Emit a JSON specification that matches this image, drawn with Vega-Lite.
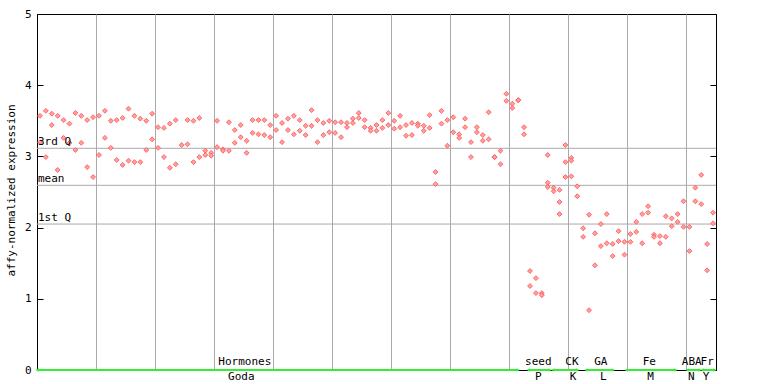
{
  "$schema": "https://vega.github.io/schema/vega-lite/v6.json",
  "width": 679,
  "height": 356,
  "autosize": {"type": "none"},
  "padding": {"left": 37, "top": 14, "right": 52, "bottom": 14},
  "background": "white",
  "config": {
    "font": "DejaVu Sans Mono",
    "view": {"stroke": "black", "strokeWidth": 1},
    "axis": {"domainColor": "black", "tickColor": "black", "labelColor": "black", "titleColor": "black", "labelFont": "DejaVu Sans Mono", "titleFont": "DejaVu Sans Mono", "titleFontWeight": "normal"}
  },
  "datasets": {
    "pts": [
      {"s":1,"v":3.57},{"s":1,"v":3.20},{"s":2,"v":3.64},{"s":2,"v":2.99},{"s":3,"v":3.60},{"s":3,"v":3.44},{"s":4,"v":3.57},{"s":4,"v":2.81},{"s":5,"v":3.51},{"s":5,"v":3.26},
      {"s":6,"v":3.46},{"s":6,"v":3.19},{"s":7,"v":3.61},{"s":7,"v":3.09},{"s":8,"v":3.57},{"s":8,"v":3.19},{"s":9,"v":3.51},{"s":9,"v":2.85},{"s":10,"v":3.55},{"s":10,"v":2.71},
      {"s":11,"v":3.57},{"s":11,"v":3.02},{"s":12,"v":3.64},{"s":12,"v":3.26},{"s":13,"v":3.50},{"s":13,"v":3.12},{"s":14,"v":3.51},{"s":14,"v":2.95},{"s":15,"v":3.54},{"s":15,"v":2.88},
      {"s":16,"v":3.67},{"s":16,"v":2.94},{"s":17,"v":3.57},{"s":17,"v":2.92},{"s":18,"v":3.53},{"s":18,"v":2.92},{"s":19,"v":3.50},{"s":19,"v":3.09},{"s":20,"v":3.60},{"s":20,"v":3.24},
      {"s":21,"v":3.41},{"s":21,"v":3.12},{"s":22,"v":3.40},{"s":22,"v":2.99},{"s":23,"v":3.46},{"s":23,"v":2.84},{"s":24,"v":3.51},{"s":24,"v":2.89},{"s":25,"v":3.16},
      {"s":26,"v":3.51},{"s":26,"v":3.17},{"s":27,"v":3.50},{"s":27,"v":2.92},{"s":28,"v":3.54},{"s":28,"v":2.99},{"s":29,"v":3.08},{"s":29,"v":3.02},{"s":30,"v":3.05},{"s":30,"v":3.01},
      {"s":31,"v":3.50},{"s":31,"v":3.13},{"s":32,"v":3.10},{"s":32,"v":3.08},{"s":33,"v":3.48},{"s":33,"v":3.08},{"s":34,"v":3.37},{"s":34,"v":3.19},{"s":35,"v":3.44},{"s":35,"v":3.27},
      {"s":36,"v":3.22},{"s":36,"v":3.05},{"s":37,"v":3.51},{"s":37,"v":3.33},{"s":38,"v":3.51},{"s":38,"v":3.31},{"s":39,"v":3.51},{"s":39,"v":3.30},{"s":40,"v":3.44},{"s":40,"v":3.27},
      {"s":41,"v":3.57},{"s":41,"v":3.37},{"s":42,"v":3.47},{"s":42,"v":3.20},{"s":43,"v":3.53},{"s":43,"v":3.37},{"s":44,"v":3.57},{"s":44,"v":3.31},{"s":45,"v":3.51},{"s":45,"v":3.36},
      {"s":46,"v":3.43},{"s":46,"v":3.30},{"s":47,"v":3.65},{"s":47,"v":3.43},{"s":48,"v":3.51},{"s":48,"v":3.20},{"s":49,"v":3.47},{"s":49,"v":3.30},{"s":50,"v":3.50},{"s":50,"v":3.34},
      {"s":51,"v":3.48},{"s":51,"v":3.33},{"s":52,"v":3.48},{"s":52,"v":3.27},{"s":53,"v":3.47},{"s":53,"v":3.41},{"s":54,"v":3.53},{"s":54,"v":3.47},{"s":55,"v":3.61},{"s":55,"v":3.54},
      {"s":56,"v":3.51},{"s":56,"v":3.41},{"s":57,"v":3.40},{"s":57,"v":3.36},{"s":58,"v":3.44},{"s":58,"v":3.36},{"s":59,"v":3.51},{"s":59,"v":3.40},{"s":60,"v":3.61},{"s":60,"v":3.44},
      {"s":61,"v":3.50},{"s":61,"v":3.39},{"s":62,"v":3.57},{"s":62,"v":3.41},{"s":63,"v":3.44},{"s":63,"v":3.29},{"s":64,"v":3.47},{"s":64,"v":3.30},{"s":65,"v":3.46},{"s":65,"v":3.43},
      {"s":66,"v":3.43},{"s":66,"v":3.36},{"s":67,"v":3.58},{"s":67,"v":3.40},{"s":68,"v":2.78},{"s":68,"v":2.61},{"s":69,"v":3.64},{"s":69,"v":3.46},{"s":70,"v":3.51},{"s":70,"v":3.15},
      {"s":71,"v":3.55},{"s":71,"v":3.34},{"s":72,"v":3.31},{"s":72,"v":3.26},{"s":73,"v":3.53},{"s":73,"v":3.41},{"s":74,"v":3.20},{"s":74,"v":2.99},{"s":75,"v":3.41},{"s":75,"v":3.34},
      {"s":76,"v":3.30},{"s":76,"v":3.22},{"s":77,"v":3.62},{"s":77,"v":3.24},{"s":78,"v":2.99},{"s":78,"v":2.99},{"s":79,"v":3.08},{"s":79,"v":2.89},{"s":80,"v":3.88},{"s":80,"v":3.78},
      {"s":81,"v":3.74},{"s":81,"v":3.68},{"s":82,"v":3.79},{"s":82,"v":3.79},{"s":83,"v":3.41},{"s":83,"v":3.31},{"s":84,"v":1.39},{"s":84,"v":1.18},{"s":85,"v":1.29},{"s":85,"v":1.08},
      {"s":86,"v":1.08},{"s":86,"v":1.05},{"s":87,"v":3.02},{"s":87,"v":2.63},{"s":87,"v":2.57},{"s":88,"v":2.56},{"s":88,"v":2.51},{"s":89,"v":2.53},{"s":89,"v":2.36},{"s":89,"v":2.19},
      {"s":90,"v":3.16},{"s":90,"v":2.92},{"s":90,"v":2.71},{"s":91,"v":2.98},{"s":91,"v":2.94},{"s":91,"v":2.72},{"s":92,"v":2.58},{"s":92,"v":2.44},{"s":93,"v":1.99},{"s":93,"v":1.87},
      {"s":94,"v":2.18},{"s":94,"v":0.84},{"s":95,"v":1.92},{"s":95,"v":1.47},{"s":96,"v":2.05},{"s":96,"v":1.74},{"s":97,"v":2.19},{"s":97,"v":1.78},{"s":98,"v":1.77},{"s":98,"v":1.60},
      {"s":99,"v":1.95},{"s":99,"v":1.81},{"s":100,"v":1.80},{"s":100,"v":1.62},{"s":101,"v":1.91},{"s":101,"v":1.80},{"s":102,"v":2.08},{"s":102,"v":1.94},{"s":103,"v":2.19},{"s":103,"v":1.78},
      {"s":104,"v":2.30},{"s":104,"v":2.21},{"s":105,"v":1.90},{"s":105,"v":1.87},{"s":106,"v":1.88},{"s":106,"v":1.78},{"s":107,"v":2.16},{"s":107,"v":1.87},{"s":108,"v":2.13},{"s":108,"v":2.02},
      {"s":109,"v":2.19},{"s":109,"v":2.08},{"s":110,"v":2.37},{"s":110,"v":2.01},{"s":111,"v":2.01},{"s":111,"v":1.67},{"s":112,"v":2.56},{"s":112,"v":2.37},{"s":113,"v":2.74},{"s":113,"v":2.33},
      {"s":114,"v":1.77},{"s":114,"v":1.40},{"s":115,"v":2.21},{"s":115,"v":2.06}
    ],
    "refs": [
      {"label": "3rd Q", "v": 3.114},
      {"label": "mean", "v": 2.594},
      {"label": "1st Q", "v": 2.05}
    ],
    "groups": [
      {"label": "Hormones", "sub": "Goda", "start": 0.5, "end": 82.0, "mid": 35.7, "submid": 35.1},
      {"label": "seed", "sub": "P", "start": 83.7, "end": 87.4, "mid": 85.4, "submid": 85.4},
      {"label": "CK", "sub": "K", "start": 87.9, "end": 92.1, "mid": 91.1, "submid": 91.3},
      {"label": "GA", "sub": "L", "start": 93.5, "end": 98.1, "mid": 96.0, "submid": 96.4},
      {"label": "Fe", "sub": "M", "start": 100.3, "end": 108.7, "mid": 104.2, "submid": 104.4},
      {"label": "ABA", "sub": "N", "start": 110.6, "end": 112.8, "mid": 111.4, "submid": 111.3},
      {"label": "Fr", "sub": "Y", "start": 113.2, "end": 115.3, "mid": 114.0, "submid": 113.8}
    ]
  },
  "layer": [
    {
      "data": {"name": "refs"},
      "mark": {"type": "rule", "color": "#aaaaaa", "strokeWidth": 1},
      "encoding": {
        "y": {"field": "v", "type": "quantitative", "scale": {"domain": [0, 5], "nice": false, "zero": true},
          "axis": {"orient": "right", "values": [0, 1, 2, 3, 4, 5], "labels": false, "ticks": true, "tickSize": -6, "grid": false, "domain": true, "title": null}}
      }
    },
    {
      "data": {"name": "pts"},
      "mark": {"type": "point", "shape": "diamond", "filled": true, "size": 24, "fill": "#ffa0a0", "stroke": "#ff5050", "strokeWidth": 0.8, "opacity": 1},
      "encoding": {
        "x": {"field": "s", "type": "quantitative", "scale": {"domain": [0.5, 115.5], "nice": false, "zero": false},
          "axis": {"values": [10.5, 20.5, 30.5, 40.5, 50.5, 60.5, 70.5, 80.5, 90.5, 100.5, 110.5], "grid": true, "gridColor": "#aaaaaa", "gridOpacity": 1, "labels": false, "ticks": false, "domain": true, "title": null}},
        "y": {"field": "v", "type": "quantitative", "scale": {"domain": [0, 5], "nice": false, "zero": true},
          "axis": {"orient": "left", "values": [0, 1, 2, 3, 4, 5], "grid": false, "tickSize": -6, "labelPadding": 12, "labelAlign": "right", "labelFontSize": 11, "title": "affy-normalized expression", "titleFontSize": 11, "titleX": -26, "titleY": 176, "titleBaseline": "middle", "titleAngle": -90}}
      }
    },
    {
      "data": {"name": "refs"},
      "mark": {"type": "text", "align": "left", "baseline": "bottom", "dx": 1, "dy": -1, "fontSize": 11, "color": "black"},
      "encoding": {
        "x": {"datum": 0.5, "type": "quantitative"},
        "y": {"field": "v", "type": "quantitative", "axis": null},
        "text": {"field": "label"}
      }
    },
    {
      "data": {"name": "groups"},
      "mark": {"type": "rule", "color": "#33ee33", "strokeWidth": 2},
      "encoding": {
        "x": {"field": "start", "type": "quantitative"},
        "x2": {"field": "end"},
        "y": {"datum": 0, "type": "quantitative", "axis": null}
      }
    },
    {
      "data": {"name": "groups"},
      "mark": {"type": "point", "shape": "triangle-left", "filled": true, "size": 14, "color": "#33ee33", "opacity": 1},
      "encoding": {
        "x": {"field": "start", "type": "quantitative"},
        "y": {"datum": 0, "type": "quantitative", "axis": null}
      }
    },
    {
      "data": {"name": "groups"},
      "mark": {"type": "point", "shape": "triangle-right", "filled": true, "size": 14, "color": "#33ee33", "opacity": 1},
      "encoding": {
        "x": {"field": "end", "type": "quantitative"},
        "y": {"datum": 0, "type": "quantitative", "axis": null}
      }
    },
    {
      "data": {"name": "groups"},
      "mark": {"type": "text", "align": "center", "baseline": "middle", "dy": -8, "fontSize": 11, "color": "black"},
      "encoding": {
        "x": {"field": "mid", "type": "quantitative"},
        "y": {"datum": 0, "type": "quantitative", "axis": null},
        "text": {"field": "label"}
      }
    },
    {
      "data": {"name": "groups"},
      "mark": {"type": "text", "align": "center", "baseline": "middle", "dy": 7, "fontSize": 11, "color": "black"},
      "encoding": {
        "x": {"field": "submid", "type": "quantitative"},
        "y": {"datum": 0, "type": "quantitative", "axis": null},
        "text": {"field": "sub"}
      }
    }
  ],
  "resolve": {"axis": {"y": "independent"}}
}
